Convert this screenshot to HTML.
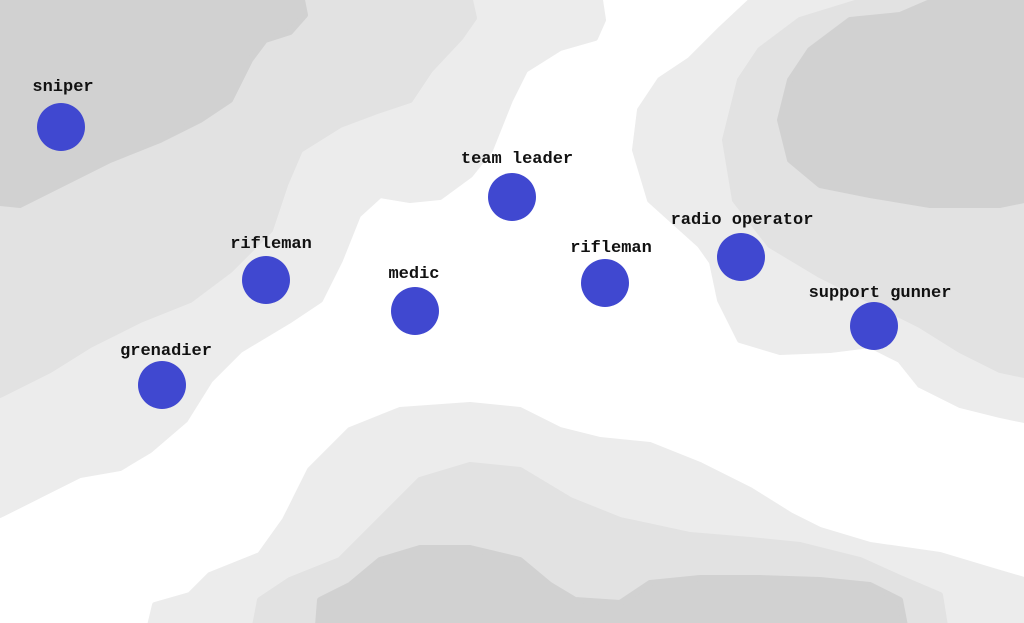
<!DOCTYPE html>
<html><head><meta charset="utf-8"><style>
html,body{margin:0;padding:0;background:#fff;}
svg{display:block;}
text{font-family:"Liberation Mono",monospace;font-weight:bold;font-size:17px;fill:#111;text-anchor:middle;}
</style></head><body>
<svg width="1024" height="623" viewBox="0 0 1024 623" xmlns="http://www.w3.org/2000/svg">
<rect width="1024" height="623" fill="#fff"/>
<g stroke-linejoin="round" stroke-width="6">
<polygon fill="#ececec" stroke="#ececec" points="0,0 600,0 603,20 595,38 560,48 525,70 510,100 490,150 470,175 440,197 410,200 380,195 358,215 340,260 320,300 290,320 240,350 210,380 185,420 150,450 120,468 80,475 40,495 0,515"/>
<polygon fill="#e2e2e2" stroke="#e2e2e2" points="0,0 470,0 474,18 460,38 430,70 410,100 380,110 340,125 300,150 285,185 270,230 230,270 190,300 140,320 90,345 50,370 20,385 0,395"/>
<polygon fill="#d1d1d1" stroke="#d1d1d1" points="0,0 302,0 305,15 290,32 265,40 250,60 230,100 200,120 160,140 110,160 60,185 20,205 0,203"/>
<polygon fill="#ececec" stroke="#ececec" points="752,0 1024,0 1024,420 1000,415 960,405 920,385 900,360 870,345 830,350 780,352 740,340 720,300 712,262 700,245 650,200 635,150 640,110 660,80 690,60 720,30"/>
<polygon fill="#e2e2e2" stroke="#e2e2e2" points="865,0 1024,0 1024,375 1000,370 960,350 920,325 870,300 820,275 770,245 735,200 725,140 740,80 760,50 800,20"/>
<polygon fill="#d1d1d1" stroke="#d1d1d1" points="935,0 1024,0 1024,200 1000,205 930,205 870,195 820,185 790,160 780,120 790,80 810,50 850,20 900,15"/>
<polygon fill="#ececec" stroke="#ececec" points="150,626 155,605 190,595 210,575 260,555 285,520 310,470 350,430 400,410 470,405 520,410 560,430 600,440 650,445 700,465 750,490 790,515 820,530 870,545 940,555 990,570 1024,580 1024,626"/>
<polygon fill="#e2e2e2" stroke="#e2e2e2" points="255,626 260,600 290,580 340,560 380,520 420,480 470,465 520,470 570,500 620,520 690,535 750,540 800,545 860,560 900,578 940,595 945,626"/>
<polygon fill="#d1d1d1" stroke="#d1d1d1" points="318,626 320,600 350,585 380,560 420,548 470,548 520,560 550,585 575,600 620,603 650,583 700,578 760,578 820,580 870,585 900,600 905,626"/>
</g>
<g fill="#4048d0">
<circle cx="61" cy="127" r="24"/>
<circle cx="512" cy="197" r="24"/>
<circle cx="266" cy="280" r="24"/>
<circle cx="415" cy="311" r="24"/>
<circle cx="605" cy="283" r="24"/>
<circle cx="741" cy="257" r="24"/>
<circle cx="874" cy="326" r="24"/>
<circle cx="162" cy="385" r="24"/>
</g>
<text x="63" y="91">sniper</text>
<text x="517" y="163">team leader</text>
<text x="271" y="248">rifleman</text>
<text x="414" y="278">medic</text>
<text x="611" y="252">rifleman</text>
<text x="742" y="224">radio operator</text>
<text x="880" y="297">support gunner</text>
<text x="166" y="355">grenadier</text>
</svg>
</body></html>
